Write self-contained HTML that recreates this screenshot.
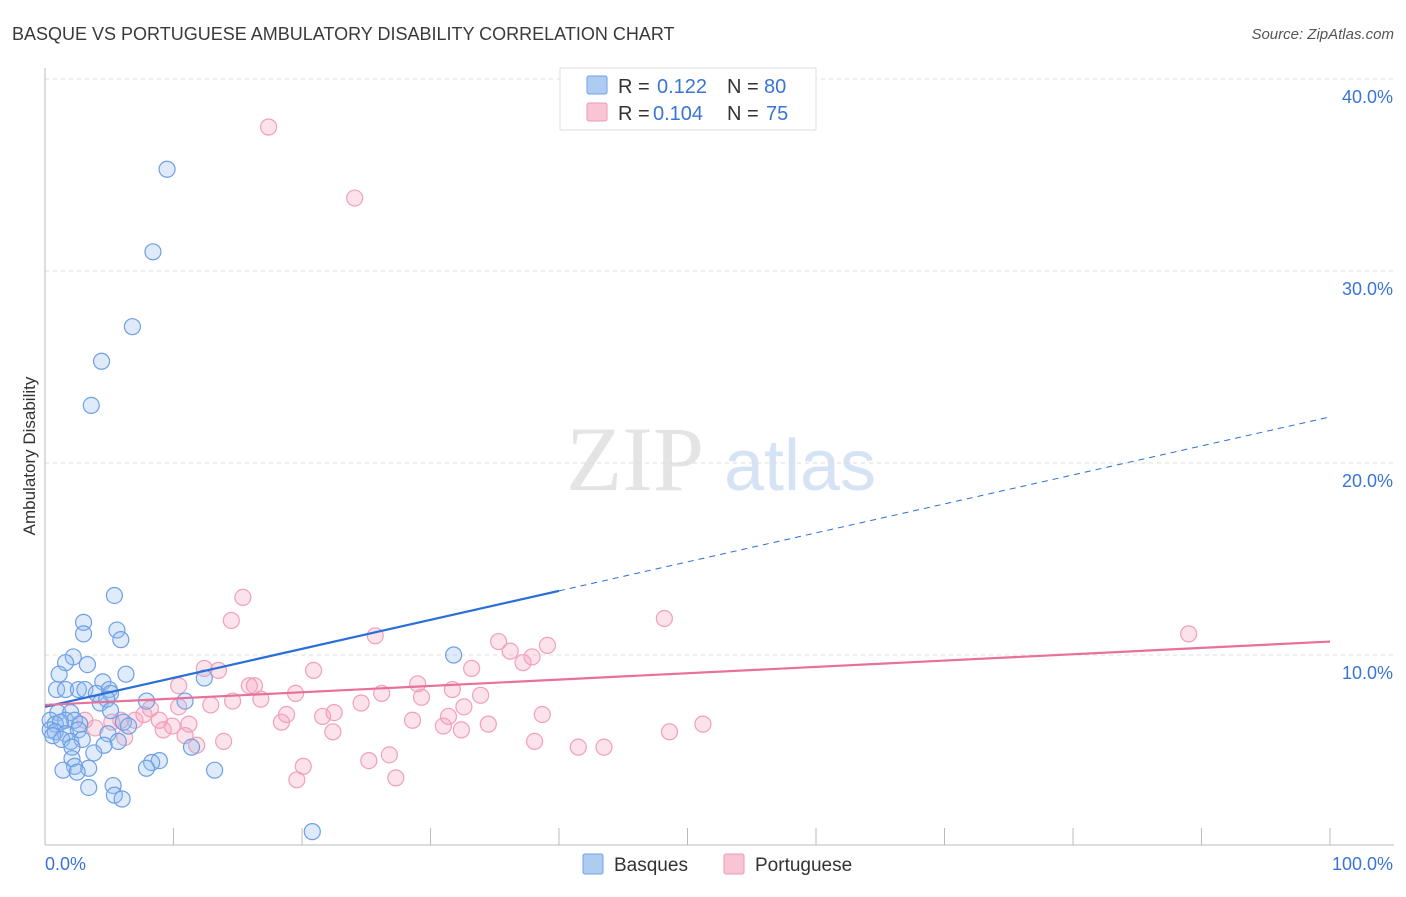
<!DOCTYPE html>
<html><head><meta charset="utf-8"><style>
body{margin:0;background:#fff;font-family:"Liberation Sans",sans-serif}
</style></head><body>
<svg id="c" width="1406" height="892" xmlns="http://www.w3.org/2000/svg" style="font-family:'Liberation Sans',sans-serif">
<text x="12" y="40" font-size="18" fill="#3a3a3a">BASQUE VS PORTUGUESE AMBULATORY DISABILITY CORRELATION CHART</text>
<text x="1394" y="39" font-size="15" fill="#555" text-anchor="end" font-style="italic">Source: ZipAtlas.com</text>
<text x="35" y="456" font-size="17" fill="#333" text-anchor="middle" transform="rotate(-90 35 456)">Ambulatory Disability</text>
<text x="635" y="490" font-size="92" fill="#e4e4e4" text-anchor="middle" font-family="Liberation Serif,serif">ZIP</text>
<text x="800" y="490" font-size="72" fill="#d6e3f5" text-anchor="middle">atlas</text>
<g id="grid"></g><g id="pts"></g><g id="lines"></g>
<g>
<rect x="560" y="68" width="256" height="62" fill="#fff" stroke="#ddd"/>
<rect x="587" y="76" width="20" height="18" fill="#aecbf2" stroke="#6e9fe5" rx="2"/>
<rect x="587" y="103" width="20" height="18" fill="#f8c5d5" stroke="#ee9ab4" rx="2"/>
<text x="618" y="93" font-size="20" fill="#333">R =</text>
<text x="657" y="93" font-size="20" fill="#3a74d6">0.122</text>
<text x="727" y="93" font-size="20" fill="#333">N =</text>
<text x="764" y="93" font-size="20" fill="#3a74d6">80</text>
<text x="618" y="120" font-size="20" fill="#333">R =</text>
<text x="653" y="120" font-size="20" fill="#3a74d6">0.104</text>
<text x="727" y="120" font-size="20" fill="#333">N =</text>
<text x="766" y="120" font-size="20" fill="#3a74d6">75</text>
</g>
<g>
<rect x="583" y="854" width="20" height="20" fill="#aecbf2" stroke="#6e9fe5" rx="2"/>
<text x="614" y="871" font-size="19" fill="#333">Basques</text>
<rect x="724" y="854" width="20" height="20" fill="#f8c5d5" stroke="#ee9ab4" rx="2"/>
<text x="755" y="871" font-size="19" fill="#333">Portuguese</text>
</g>
</svg>
<script>
const yTicks=[10,20,30,40];
const xLabels=["0.0%","100.0%"];
const blueX=[9.5,8.4,6.8,4.4,3.6,5.4,3.0,3.0,5.6,5.9,2.2,1.6,3.3,6.3,1.1,31.8,12.4,0.9,1.6,2.6,3.1,4.5,5.0,4.0,5.1,7.9,10.9,4.3,4.8,5.1,1.0,2.0,1.6,2.3,0.4,0.8,1.2,2.7,6.1,6.5,0.4,0.8,1.6,2.6,0.6,4.9,1.3,2.0,2.9,5.7,2.1,4.6,11.4,3.8,2.1,8.9,8.3,7.9,3.4,2.3,1.4,2.5,13.2,5.3,3.4,5.4,6.0,20.8];
const blueY=[35.3,31.0,27.1,25.3,23.0,13.1,11.7,11.1,11.3,10.8,9.9,9.6,9.5,9.0,9.0,10.0,8.8,8.2,8.2,8.2,8.2,8.6,8.2,8.0,8.0,7.6,7.6,7.5,7.7,7.1,7.0,7.0,6.6,6.6,6.6,6.4,6.5,6.4,6.5,6.3,6.1,6.0,5.9,6.1,5.8,5.9,5.6,5.5,5.6,5.5,5.2,5.3,5.2,4.9,4.6,4.5,4.4,4.1,4.1,4.2,4.0,3.9,4.0,3.2,3.1,2.7,2.5,0.8];
const pinkX=[17.4,24.1,15.4,14.5,48.2,89.0,25.7,35.3,39.1,36.2,37.9,37.2,33.2,20.9,12.4,13.5,10.4,15.9,16.3,29.0,31.7,19.5,26.2,33.9,29.3,12.9,14.6,16.8,24.6,32.6,10.4,8.2,7.7,8.9,18.8,22.5,21.6,38.7,31.4,28.6,7.0,5.2,5.9,11.2,9.9,18.4,34.5,51.2,31.0,9.2,32.4,22.4,48.6,10.9,3.9,6.2,13.9,11.8,38.1,41.5,43.5,26.8,25.2,20.1,19.6,27.3,3.1];
const pinkY=[37.5,33.8,13.0,11.8,11.9,11.1,11.0,10.7,10.5,10.2,9.9,9.6,9.3,9.2,9.3,9.2,8.4,8.4,8.4,8.5,8.2,8.0,8.0,7.9,7.8,7.4,7.6,7.7,7.5,7.3,7.3,7.2,6.9,6.6,6.9,7.0,6.8,6.9,6.8,6.6,6.6,6.5,6.6,6.4,6.3,6.5,6.4,6.4,6.3,6.1,6.1,6.0,6.0,5.8,6.2,5.7,5.5,5.3,5.5,5.2,5.2,4.8,4.5,4.2,3.5,3.6,6.6];
const blueTrend=[7.3,22.4];
const pinkTrend=[7.4,10.7];
const NS="http://www.w3.org/2000/svg";
const sx=v=>45+v*12.85, sy=v=>847-v*19.2;
function mk(t,a,p){const e=document.createElementNS(NS,t);for(const k in a)e.setAttribute(k,a[k]);p.appendChild(e);return e;}
const g=document.getElementById('grid');
yTicks.forEach(t=>{
 const l=mk('line',{x1:45,x2:1394,y1:sy(t),y2:sy(t),stroke:'#ddd','stroke-dasharray':'4 4'},g);
 
 
 const tx=mk('text',{x:1393,y:sy(t)+24,'font-size':18,fill:'#3a74d6','text-anchor':'end'},g);
 tx.textContent=t.toFixed(1)+'%';
 
 
});
const ax=mk('line',{x1:45,x2:1394,y1:845,y2:845,stroke:'#bbb'},g);


const ay=mk('line',{x1:45,x2:45,y1:68,y2:845,stroke:'#bbb'},g);


for(let i=0;i<=10;i++){const t=mk('line',{x1:sx(i*10),x2:sx(i*10),y1:828,y2:845,stroke:'#bbb'},g);
 
 }
xLabels.forEach((s,i)=>{const t=mk('text',{x:i?1393:45,y:870,'font-size':18,fill:'#3a74d6','text-anchor':i?'end':'start'},g);t.textContent=s;
 
 });
const p=document.getElementById('pts');
pinkX.forEach((x,i)=>{const c=mk('circle',{cx:sx(x),cy:sy(pinkY[i]),r:8,fill:'rgba(244,160,190,0.3)',stroke:'#f0a0b8','stroke-width':1.2},p);
 
 });
blueX.forEach((x,i)=>{const c=mk('circle',{cx:sx(x),cy:sy(blueY[i]),r:8,fill:'rgba(150,190,240,0.3)',stroke:'#6e9fe5','stroke-width':1.2},p);
 
 });
const L=document.getElementById('lines');
const bm=v=>blueTrend[0]+(blueTrend[1]-blueTrend[0])*v/100;
const b1=mk('line',{x1:sx(0),y1:sy(bm(0)),x2:sx(40),y2:sy(bm(40)),stroke:'#2a6fd8','stroke-width':2.2},L);


const b2=mk('line',{x1:sx(40),y1:sy(bm(40)),x2:sx(100),y2:sy(bm(100)),stroke:'#2a6fd8','stroke-width':1,'stroke-dasharray':'6 5'},L);


const p1=mk('line',{x1:sx(0),y1:sy(pinkTrend[0]),x2:sx(100),y2:sy(pinkTrend[1]),stroke:'#e8709a','stroke-width':2.2},L);


</script>
</body></html>
